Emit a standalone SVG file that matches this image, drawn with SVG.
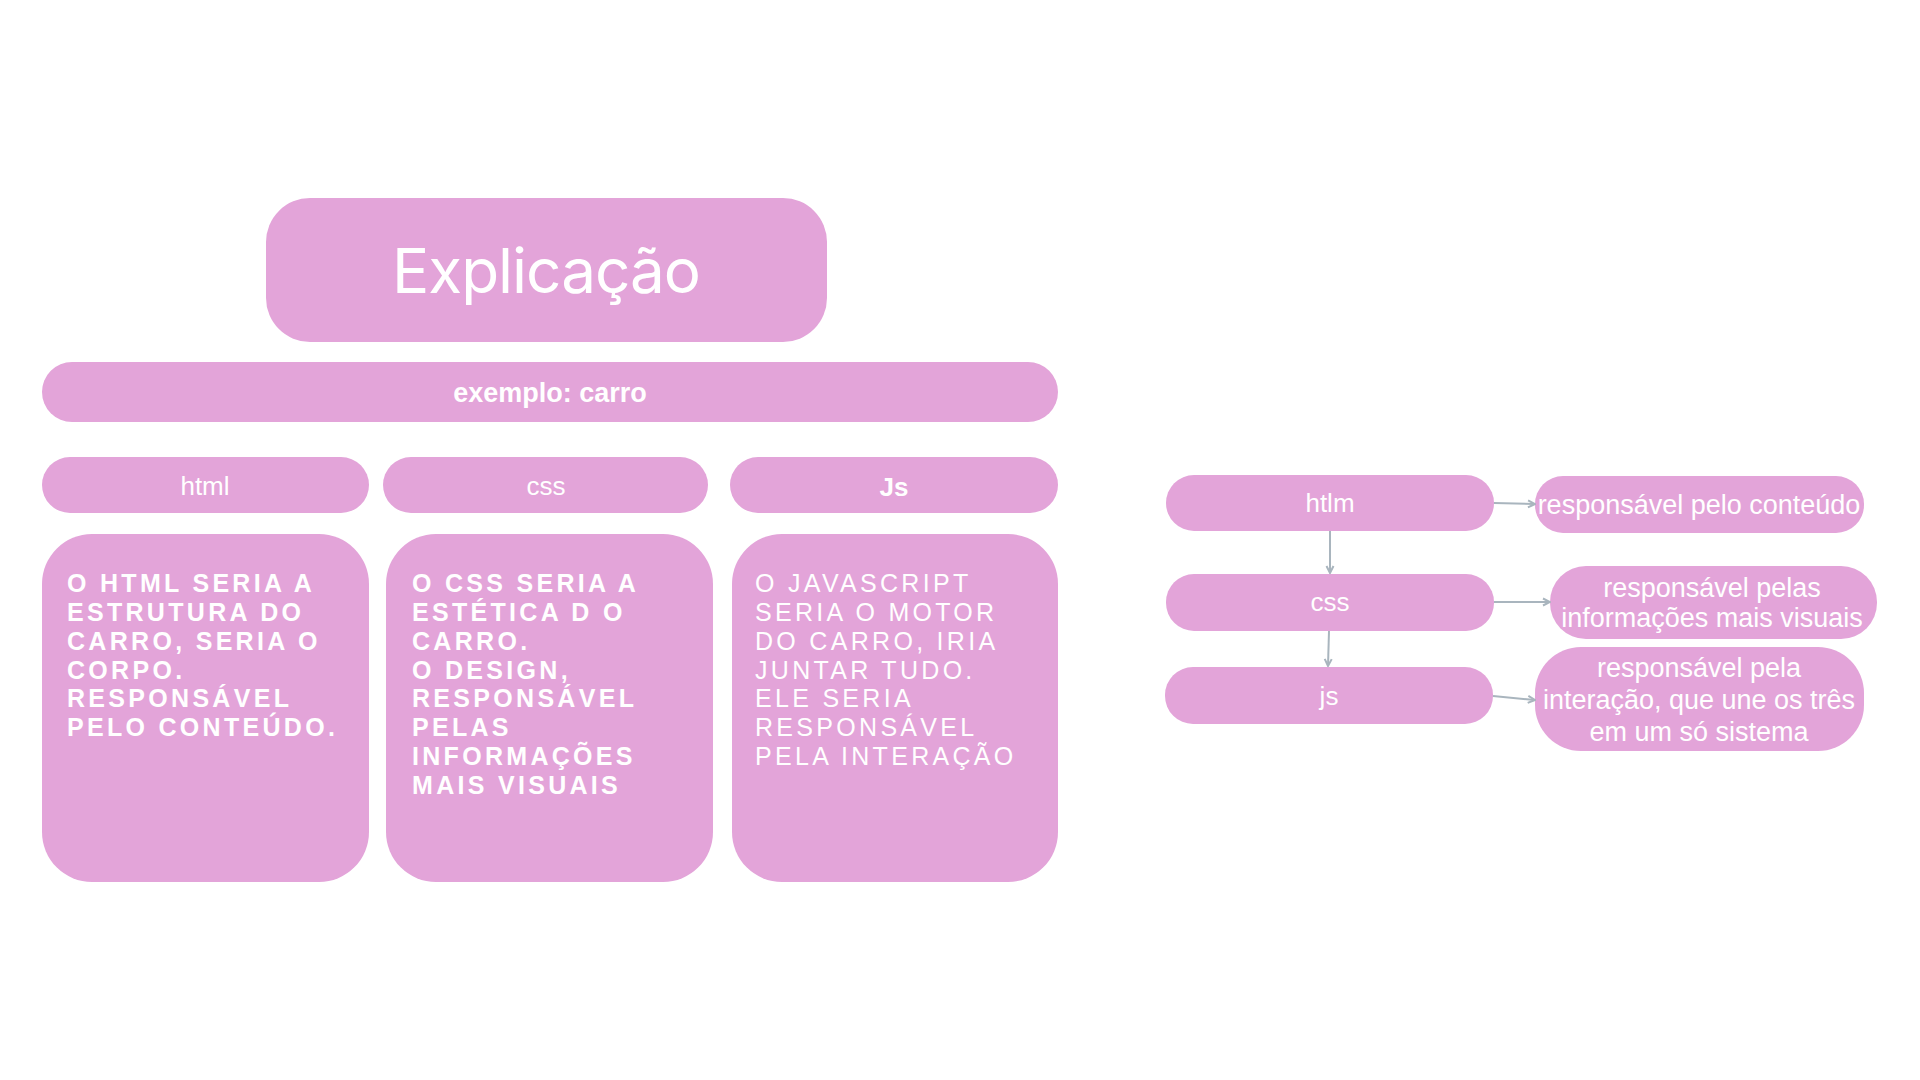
<svg xmlns="http://www.w3.org/2000/svg" width="1920" height="1080" viewBox="0 0 1920 1080">
<defs>
<style>
.box{fill:#e3a4d9}
.t{fill:#ffffff;font-family:"Liberation Sans",Arial,sans-serif}
.c{text-anchor:middle}
.body{font-size:25px;letter-spacing:3.3px}
.b{font-weight:bold}
.conn{stroke:#a9b5be;stroke-width:2;fill:none;marker-end:url(#ah)}
</style>
<marker id="ah" viewBox="0 0 10 10" refX="9" refY="5" markerWidth="10" markerHeight="10" orient="auto" markerUnits="userSpaceOnUse">
<path d="M2,1.5 L9,5 L2,8.5" fill="none" stroke="#a9b5be" stroke-width="2"/>
</marker>
</defs>
<rect width="1920" height="1080" fill="#ffffff"/>

<g id="explicacao">
<rect class="box" x="266" y="198" width="561" height="144" rx="44"/>
<text class="t c" x="546" y="293" style="font-family:Inter,'Open Sans',sans-serif;font-size:62px;font-weight:400;letter-spacing:-1px">Explicação</text>
</g>

<g id="exemplo">
<rect class="box" x="42" y="362" width="1016" height="60" rx="30"/>
<text class="t c b" x="550" y="402" font-size="27">exemplo: carro</text>
</g>

<g id="html-header">
<rect class="box" x="42" y="457" width="327" height="56" rx="28"/>
<text class="t c" x="205" y="495" font-size="26">html</text>
</g>
<g id="css-header">
<rect class="box" x="383" y="457" width="325" height="56" rx="28"/>
<text class="t c" x="546" y="495" font-size="26">css</text>
</g>
<g id="js-header">
<rect class="box" x="730" y="457" width="328" height="56" rx="28"/>
<text class="t c b" x="894" y="496" font-size="26">Js</text>
</g>

<g id="html-body">
<rect class="box" x="42" y="534" width="327" height="348" rx="50"/>
<text class="t body b" x="67" y="592">
<tspan x="67" y="592">O HTML SERIA A</tspan>
<tspan x="67" y="621">ESTRUTURA DO</tspan>
<tspan x="67" y="650">CARRO, SERIA O</tspan>
<tspan x="67" y="679">CORPO.</tspan>
<tspan x="67" y="707">RESPONSÁVEL</tspan>
<tspan x="67" y="736">PELO CONTEÚDO.</tspan>
</text>
</g>

<g id="css-body">
<rect class="box" x="386" y="534" width="327" height="348" rx="50"/>
<text class="t body b" x="412" y="592">
<tspan x="412" y="592">O CSS SERIA A</tspan>
<tspan x="412" y="621">ESTÉTICA D O</tspan>
<tspan x="412" y="650">CARRO.</tspan>
<tspan x="412" y="679">O DESIGN,</tspan>
<tspan x="412" y="707">RESPONSÁVEL</tspan>
<tspan x="412" y="736">PELAS</tspan>
<tspan x="412" y="765">INFORMAÇÕES</tspan>
<tspan x="412" y="794">MAIS VISUAIS</tspan>
</text>
</g>

<g id="js-body">
<rect class="box" x="732" y="534" width="326" height="348" rx="50"/>
<text class="t body" x="755" y="592">
<tspan x="755" y="592">O JAVASCRIPT</tspan>
<tspan x="755" y="621">SERIA O MOTOR</tspan>
<tspan x="755" y="650">DO CARRO, IRIA</tspan>
<tspan x="755" y="679">JUNTAR TUDO.</tspan>
<tspan x="755" y="707">ELE SERIA</tspan>
<tspan x="755" y="736">RESPONSÁVEL</tspan>
<tspan x="755" y="765">PELA INTERAÇÃO</tspan>
</text>
</g>

<g id="htlm">
<rect class="box" x="1166" y="475" width="328" height="56" rx="28"/>
<text class="t c" x="1330" y="512" font-size="26">htlm</text>
</g>
<g id="css">
<rect class="box" x="1166" y="574" width="328" height="57" rx="28"/>
<text class="t c" x="1330" y="611" font-size="26">css</text>
</g>
<g id="js">
<rect class="box" x="1165" y="667" width="328" height="57" rx="28"/>
<text class="t c" x="1329" y="705" font-size="26">js</text>
</g>

<g id="resp-html">
<rect class="box" x="1535" y="476" width="329" height="57" rx="28"/>
<text class="t c" x="1699" y="514" font-size="27">responsável pelo conteúdo</text>
</g>
<g id="resp-css">
<rect class="box" x="1550" y="566" width="327" height="73" rx="36"/>
<text class="t c" x="1712" y="597" font-size="27">responsável pelas</text>
<text class="t c" x="1712" y="627" font-size="27">informações mais visuais</text>
</g>
<g id="resp-js">
<rect class="box" x="1535" y="647" width="329" height="104" rx="46"/>
<text class="t c" x="1699" y="677" font-size="27">responsável pela</text>
<text class="t c" x="1699" y="709" font-size="27">interação, que une os três</text>
<text class="t c" x="1699" y="741" font-size="27">em um só sistema</text>
</g>

<g id="connectors">
<path class="conn" d="M1494,503 L1535,504"/>
<path class="conn" d="M1494,602 L1550,602"/>
<path class="conn" d="M1493,696 L1535,700"/>
<path class="conn" d="M1330,531 L1330,573"/>
<path class="conn" d="M1329,631 L1328,666"/>
</g>
</svg>
